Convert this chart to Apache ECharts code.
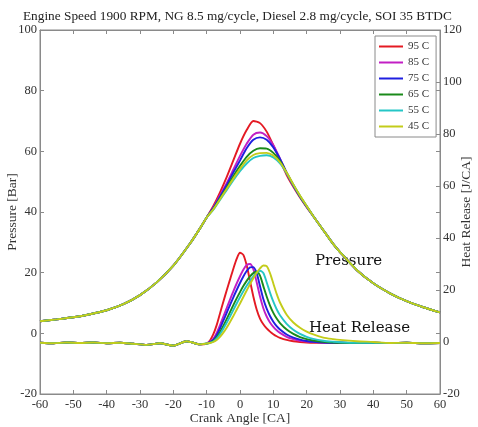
<!DOCTYPE html>
<html><head><meta charset="utf-8">
<script src="https://cdn.jsdelivr.net/npm/echarts@6/dist/echarts.min.js"></script>
<style>html,body{margin:0;padding:0;background:#fff}#c{width:478px;height:427px}</style>
</head><body><div id="c"></div>
<script>
// ---- data ----
const seriesNames = ['95 C', '85 C', '75 C', '65 C', '55 C', '45 C'];
const seriesColors = ['#e41a23', '#c21fc4', '#1f1fe0', '#1a8a1a', '#25c6c6', '#c3cc1a'];

// Pressure [Bar]
const caCompression = [-60, -55, -50, -45, -40, -35, -30, -25, -20, -15, -12, -10];
const pCompression = [4.0, 4.6, 5.3, 6.3, 7.6, 9.6, 12.6, 16.8, 22.3, 29.6, 34.6, 38.2];
const caCombustion = [-8, -6, -4, -2, 0, 2, 4, 6, 8, 10, 12, 14, 16, 18, 20];
const p95 = [42, 46.5, 51.5, 57, 62.5, 67, 70, 69.3, 66.5, 62, 57, 52.2, 48.3, 44.8, 41.6];
const p85 = [41.5, 45.5, 49.5, 54, 58.5, 62.5, 65.5, 66.2, 65, 62, 57.6, 52.8, 48.6, 45, 41.7];
const p75 = [41.3, 45, 48.8, 53, 57, 61, 63.8, 64.6, 63.8, 61.3, 57.5, 53, 48.8, 45.1, 41.8];
const p65 = [41, 44.5, 48, 51.8, 55.2, 58.2, 60.2, 61, 60.9, 59.5, 56.8, 52.9, 48.9, 45.2, 41.9];
const p55 = [40.8, 44, 47.2, 50.5, 53.5, 56, 57.8, 58.5, 58.7, 58, 56, 52.8, 49, 45.3, 42];
const p45 = [40.9, 44.2, 47.6, 51, 54.2, 57, 58.8, 59.4, 59.5, 58.6, 56.4, 53, 49.1, 45.4, 42];
const caExpansion = [22, 25, 28, 30, 35, 40, 45, 50, 55, 60];
const pExpansion = [38.6, 34, 29.4, 26.8, 20.9, 16.5, 13.2, 10.6, 8.6, 6.9];

// Heat Release [J/CA]
const caBaseline = [-60, -56, -52, -48, -44, -40, -36, -32, -28, -24, -20, -16, -12];
const hrBaseline = [-0.3, -0.5, -0.2, -0.4, -0.2, -0.5, -0.3, -0.7, -1.1, -0.5, -1.4, 0.3, -0.9];
const caRelease = [-10, -9, -8, -7, -6, -5, -4, -3, -2, -1, 0, 1, 2, 3, 4, 5, 6, 7, 8, 9, 10, 11, 12, 14, 16, 18, 20, 22, 25, 28, 30, 35, 40];
const hr95 = [-0.6, 0.6, 3, 6.5, 11, 15.5, 19.8, 24, 28.2, 32, 34.3, 33.5, 29.5, 23.5, 17.5, 12.5, 9, 6.8, 5.2, 4, 3, 2.2, 1.6, 0.8, 0.3, 0, -0.2, -0.3, -0.3, -0.4, -0.3, -0.4, -0.3];
const hr85 = [-0.6, 0.2, 1.2, 3.5, 6.5, 9.8, 13, 16.3, 19.5, 22.5, 25.3, 27.8, 29.6, 30, 28, 23, 17.5, 13, 9.8, 7.5, 5.8, 4.5, 3.5, 2.0, 1.1, 0.5, 0.2, 0, -0.2, -0.3, -0.3, -0.4, -0.3];
const hr75 = [-0.6, 0, 0.8, 2.6, 5.2, 8.2, 11.2, 14.2, 17.2, 20, 22.7, 25.2, 27.3, 28.7, 28.8, 26.5, 21.5, 16.5, 12.8, 10, 7.8, 6.1, 4.8, 2.9, 1.7, 0.9, 0.4, 0.1, -0.2, -0.3, -0.3, -0.4, -0.3];
const hr65 = [-0.6, -0.2, 0.4, 1.8, 3.8, 6.2, 8.8, 11.5, 14.2, 16.8, 19.2, 21.5, 23.5, 25.2, 26.5, 27, 25.5, 21.5, 17.5, 14, 11.2, 9, 7.3, 4.8, 3.1, 1.9, 1.1, 0.6, 0.1, -0.2, -0.3, -0.4, -0.3];
const hr55 = [-0.6, -0.3, 0.2, 1.3, 3, 5.1, 7.4, 9.8, 12.3, 14.8, 17.2, 19.5, 21.6, 23.5, 25.2, 26.6, 27.4, 26.5, 23, 19, 15.5, 12.6, 10.3, 7, 4.7, 3.1, 2, 1.2, 0.5, 0.1, -0.1, -0.3, -0.3];
const hr45 = [-0.6, -0.4, 0, 0.8, 2, 3.6, 5.5, 7.7, 10, 12.4, 14.8, 17.3, 19.8, 22.2, 24.5, 26.6, 28.3, 29.4, 29.2, 26.5, 22.5, 18.5, 15.2, 10.5, 7.5, 5.5, 4, 2.9, 1.7, 1.1, 0.8, 0.3, 0];
const caTail = [45, 50, 55, 60];
const hrTail = [-0.4, -0.3, -0.5, -0.4];

const xTicks = { min: -60, max: 60, step: 10 };
const pressureTicks = { min: -20, max: 100, step: 20 };
const heatTicks = { min: -20, max: 120, step: 20 };

// ---- build ----
const pressureSets = [p95, p85, p75, p65, p55, p45];
const heatSets = [hr95, hr85, hr75, hr65, hr55, hr45];
function zip(xs, ys) { return xs.map((x, i) => [x, ys[i]]); }
const pressureX = caCompression.concat(caCombustion, caExpansion);
const heatX = caBaseline.concat(caRelease, caTail);

const FONT = 'Liberation Serif';
const series = [];
seriesNames.forEach((name, i) => {
  series.push({
    name, type: 'line', xAxisIndex: 0, yAxisIndex: 0, showSymbol: false, smooth: 0.25,
    lineStyle: { width: 1.9, color: seriesColors[i] }, itemStyle: { color: seriesColors[i] },
    data: zip(pressureX, pCompression.concat(pressureSets[i], pExpansion)), animation: false
  });
});
seriesNames.forEach((name, i) => {
  series.push({
    name, type: 'line', xAxisIndex: 0, yAxisIndex: 1, showSymbol: false, smooth: 0.25,
    lineStyle: { width: 1.9, color: seriesColors[i] }, itemStyle: { color: seriesColors[i] },
    data: zip(heatX, hrBaseline.concat(heatSets[i], hrTail)), animation: false
  });
});

const axisLineStyle = { show: true, onZero: false, lineStyle: { color: '#8a8a8a', width: 1 } };
const tickStyle = { inside: true, length: 4, lineStyle: { color: '#8a8a8a' } };
const labelStyle = { fontFamily: FONT, fontSize: 12.5, color: '#333' };
const nameStyle = { fontFamily: FONT, fontSize: 13.5, color: '#333' };

const chart = echarts.init(document.getElementById('c'), null, { renderer: 'canvas' });
chart.setOption({
  animation: false,
  backgroundColor: '#fff',
  title: {
    text: 'Engine Speed 1900 RPM, NG 8.5 mg/cycle, Diesel 2.8 mg/cycle, SOI 35 BTDC',
    left: 18, top: 5,
    textStyle: { fontFamily: FONT, fontSize: 13.3, fontWeight: 'normal', color: '#222' }
  },
  legend: {
    data: seriesNames, orient: 'vertical', left: 375, top: 36,
    icon: 'rect', itemWidth: 24, itemHeight: 2, itemGap: 3,
    textStyle: { fontFamily: FONT, fontSize: 11, color: '#333', lineHeight: 13 },
    borderColor: '#8a8a8a', borderWidth: 1, padding: [4, 7, 4, 4], backgroundColor: '#fff'
  },
  grid: { left: 40, right: 38, top: 30, bottom: 33, show: true, borderColor: '#8a8a8a', borderWidth: 1,
          containLabel: false, outerBoundsMode: 'none' },
  xAxis: [
    {
      type: 'value', min: xTicks.min, max: xTicks.max, interval: xTicks.step, position: 'bottom',
      name: 'Crank Angle [CA]', nameLocation: 'middle', nameGap: 17, nameTextStyle: nameStyle,
      nameMoveOverlap: false,
      axisLine: axisLineStyle, axisTick: tickStyle,
      axisLabel: Object.assign({ margin: 4 }, labelStyle), splitLine: { show: false }
    },
    {
      type: 'value', min: xTicks.min, max: xTicks.max, interval: xTicks.step, position: 'top',
      axisLine: axisLineStyle, axisTick: tickStyle, axisLabel: { show: false }, splitLine: { show: false }
    }
  ],
  yAxis: [
    {
      type: 'value', min: pressureTicks.min, max: pressureTicks.max, interval: pressureTicks.step, position: 'left',
      name: 'Pressure [Bar]', nameLocation: 'middle', nameGap: 21, nameRotate: 90, nameTextStyle: nameStyle,
      nameMoveOverlap: false,
      axisLine: axisLineStyle, axisTick: tickStyle,
      axisLabel: Object.assign({ margin: 3 }, labelStyle), splitLine: { show: false }
    },
    {
      type: 'value', min: heatTicks.min, max: heatTicks.max, interval: heatTicks.step, position: 'right',
      name: 'Heat Release [J/CA]', nameLocation: 'middle', nameGap: 19, nameRotate: 90, nameTextStyle: nameStyle,
      nameMoveOverlap: false,
      axisLine: axisLineStyle, axisTick: tickStyle,
      axisLabel: Object.assign({ margin: 3 }, labelStyle), splitLine: { show: false }
    },
    {
      type: 'value', min: pressureTicks.min, max: pressureTicks.max, interval: pressureTicks.step, position: 'right',
      axisLine: { show: false, onZero: false }, axisTick: tickStyle, axisLabel: { show: false }, splitLine: { show: false }
    }
  ],
  graphic: [
    { type: 'text', left: 315, top: 254, style: { text: 'Pressure', font: '15px "DejaVu Serif"', fill: '#111' } },
    { type: 'text', left: 309, top: 321, style: { text: 'Heat Release', font: '15px "DejaVu Serif"', fill: '#111' } }
  ],
  series
});
</script>
</body></html>
